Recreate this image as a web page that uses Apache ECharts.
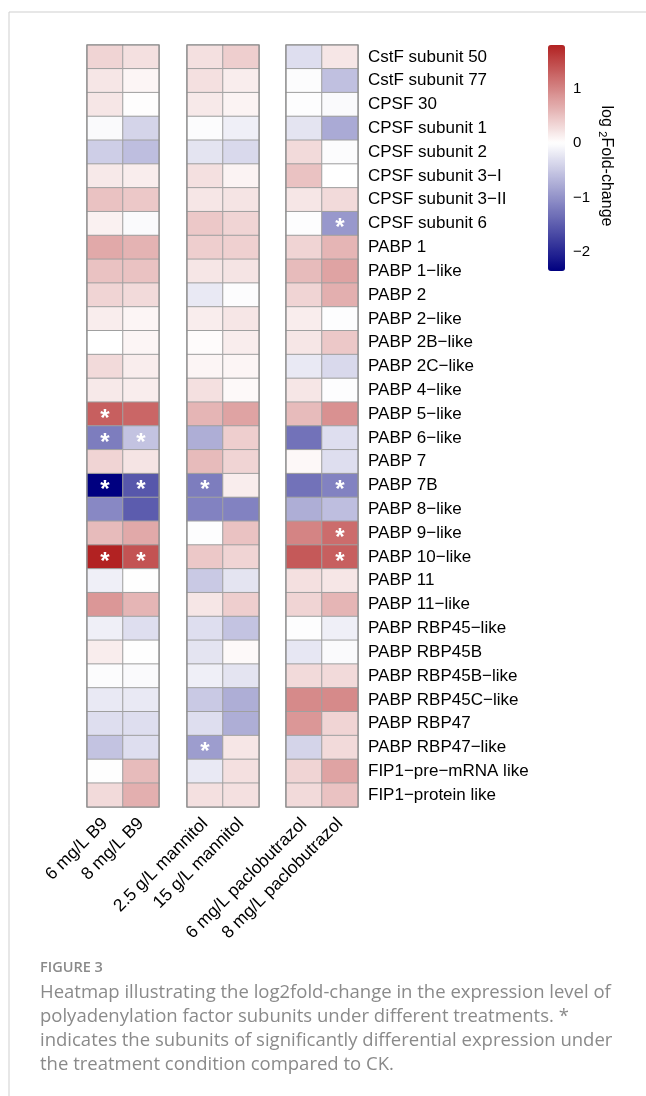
<!DOCTYPE html>
<html>
<head>
<meta charset="utf-8">
<script src="https://cdn.jsdelivr.net/npm/echarts@6/dist/echarts.min.js"></script>
<style>
html,body{margin:0;padding:0;background:#fff;}
#chart{width:646px;height:1096px;}
</style>
</head>
<body>
<div id="chart"></div>
<script>
// ---------- DATA ----------
const genes = [
  'CstF subunit 50','CstF subunit 77','CPSF 30','CPSF subunit 1','CPSF subunit 2',
  'CPSF subunit 3−I','CPSF subunit 3−II','CPSF subunit 6','PABP 1','PABP 1−like',
  'PABP 2','PABP 2−like','PABP 2B−like','PABP 2C−like','PABP 4−like','PABP 5−like',
  'PABP 6−like','PABP 7','PABP 7B','PABP 8−like','PABP 9−like','PABP 10−like',
  'PABP 11','PABP 11−like','PABP RBP45−like','PABP RBP45B','PABP RBP45B−like',
  'PABP RBP45C−like','PABP RBP47','PABP RBP47−like','FIP1−pre−mRNA like','FIP1−protein like'
];
const treatments = ['6 mg/L B9','8 mg/L B9','2.5 g/L mannitol','15 g/L mannitol','6 mg/L paclobutrazol','8 mg/L paclobutrazol'];

const b9_6   = [0.35,0.2,0.2,-0.05,-0.45,0.18,0.5,0.12,0.7,0.5,0.35,0.15,0.0,0.3,0.18,1.3,-1.2,0.35,-2.35,-1.1,0.55,1.8,-0.15,0.85,-0.15,0.15,-0.03,-0.2,-0.3,-0.55,-0.01,0.3];
const b9_8   = [0.25,0.08,0.02,-0.4,-0.6,0.15,0.45,-0.05,0.62,0.5,0.3,0.08,0.08,0.15,0.15,1.25,-0.55,0.22,-1.55,-1.5,0.7,1.4,-0.01,0.6,-0.3,-0.01,-0.05,-0.2,-0.3,-0.3,0.55,0.65];
const man_25 = [0.25,0.25,0.18,-0.03,-0.25,0.25,0.2,0.45,0.4,0.2,-0.2,0.15,0.03,0.08,0.25,0.6,-0.75,0.55,-1.2,-1.15,-0.02,0.45,-0.5,0.2,-0.3,-0.25,-0.15,-0.5,-0.3,-0.9,-0.2,0.25];
const man_15 = [0.4,0.15,0.1,-0.15,-0.35,0.1,0.22,0.35,0.38,0.22,-0.03,0.2,0.15,0.08,0.05,0.75,0.4,0.35,0.15,-1.15,0.5,0.35,-0.25,0.4,-0.55,0.05,-0.25,-0.75,-0.75,0.2,0.25,0.25];
const pac_6  = [-0.3,-0.03,-0.02,-0.25,0.3,0.5,0.2,-0.02,0.35,0.55,0.35,0.15,0.2,-0.2,0.2,0.55,-1.3,0.06,-1.3,-0.75,1.0,1.35,0.25,0.35,-0.02,-0.22,0.3,0.95,0.85,-0.4,0.35,0.3];
const pac_8  = [0.2,-0.58,-0.05,-0.78,-0.03,0.0,0.3,-0.95,0.6,0.75,0.65,-0.02,0.45,-0.35,-0.02,0.9,-0.3,-0.3,-1.15,-0.6,1.2,1.3,0.2,0.6,-0.15,-0.05,0.3,0.95,0.35,0.3,0.75,0.5];

const sig_b9_6   = ['PABP 5−like','PABP 6−like','PABP 7B','PABP 10−like'];
const sig_b9_8   = ['PABP 6−like','PABP 7B','PABP 10−like'];
const sig_man_25 = ['PABP 7B','PABP RBP47−like'];
const sig_man_15 = [];
const sig_pac_6  = [];
const sig_pac_8  = ['CPSF subunit 6','PABP 7B','PABP 9−like','PABP 10−like'];

const scaleMin = -2.35, scaleMax = 1.8;
const colorTicks = [-2, -1, 0, 1];

// ---------- BUILD ----------
const cols = [b9_6, b9_8, man_25, man_15, pac_6, pac_8];
const sigs = [sig_b9_6, sig_b9_8, sig_man_25, sig_man_15, sig_pac_6, sig_pac_8];

// colour ramp: navy -> white at 0 -> firebrick
const lowC = [0,0,128], midC = [255,255,255], highC = [178,34,34];
function colAt(v){
  let b, t;
  if (v < 0){ b = lowC; t = v/scaleMin; } else { b = highC; t = v/scaleMax; }
  const c = midC.map((x,i)=>Math.round(x + (b[i]-x)*t));
  return 'rgb(' + c.join(',') + ')';
}
const ramp = [];
const N = 84;
for (let i = 0; i < N; i++) ramp.push(colAt(scaleMin + (scaleMax-scaleMin)*i/(N-1)));

const font = '"Liberation Sans", Arial, Helvetica, sans-serif';
const groupLefts = [87, 187, 286];
const gridTop = 45, gridH = 762, cellW = 36;

const grids = [], xAxes = [], yAxes = [], series = [];
for (let g = 0; g < 3; g++){
  grids.push({left: groupLefts[g], top: gridTop, width: cellW*2, height: gridH, show: true, borderColor: '#8c8c8c', borderWidth: 1.2, backgroundColor: 'transparent', z: 3});
  xAxes.push({
    type: 'category', gridIndex: g, data: treatments.slice(g*2, g*2+2), position: 'bottom',
    axisLine: {show: false}, axisTick: {show: false},
    axisLabel: {rotate: 45, fontSize: 17.5, color: '#000', fontFamily: font, margin: 14, interval: 0}
  });
  yAxes.push({
    type: 'category', gridIndex: g, data: genes, inverse: true, position: 'right',
    axisLine: {show: false}, axisTick: {show: false},
    axisLabel: {show: g === 2, fontSize: 17, color: '#000', fontFamily: font, margin: 10, align: 'left', interval: 0}
  });
  const data = [];
  for (let c = 0; c < 2; c++){
    const ti = g*2 + c;
    for (let r = 0; r < genes.length; r++){
      data.push({value: [c, r, cols[ti][r]], star: sigs[ti].indexOf(genes[r]) >= 0});
    }
  }
  series.push({
    type: 'heatmap', xAxisIndex: g, yAxisIndex: g, data: data,
    itemStyle: {borderColor: '#a0a0a0', borderWidth: 1},
    label: {
      show: true, color: '#fff', fontSize: 24, fontWeight: 'bold', fontFamily: font,
      offset: [0, 5],
      formatter: p => p.data.star ? '*' : ''
    },
    emphasis: {disabled: true}
  });
}

// colour bar axis
grids.push({left: 548, top: 45, width: 17, height: 226, show: false});
xAxes.push({type: 'value', gridIndex: 3, show: false});
yAxes.push({
  type: 'value', gridIndex: 3, min: scaleMin, max: scaleMax, position: 'right',
  axisLine: {show: false}, axisTick: {show: false}, splitLine: {show: false},
  axisLabel: {customValues: colorTicks, fontSize: 15, color: '#000', fontFamily: font, margin: 8,
    formatter: v => String(v).replace('-', '−')},
  name: '{a|log }{s|2}{a|Fold-change}', nameLocation: 'middle', nameRotate: -90, nameGap: 32,
  nameTextStyle: {
    padding: [0, 0, 0, 16],
    rich: {
      a: {fontSize: 16, color: '#000', fontFamily: font},
      s: {fontSize: 11, color: '#000', fontFamily: font, padding: [8, 0, 0, 0]}
    }
  }
});

const option = {
  backgroundColor: '#fff',
  animation: false,
  grid: grids, xAxis: xAxes, yAxis: yAxes, series: series,
  visualMap: {
    type: 'continuous', min: scaleMin, max: scaleMax, seriesIndex: [0,1,2],
    left: 548, top: 45, itemWidth: 17, itemHeight: 226, padding: 0,
    calculable: false, realtime: false, text: ['', ''], showLabel: false,
    inRange: {color: ramp}, hoverLink: false
  },
  graphic: [
    {type: 'rect', shape: {x: 9, y: 12, width: 700, height: 1200}, style: {fill: 'none', stroke: '#cfcfcf', lineWidth: 1}, silent: true, z: -1},
    {type: 'text', left: 40, top: 960, style: {text: 'FIGURE 3', fontSize: 14.5, fontWeight: 600, fill: '#8a8a8a', fontFamily: '"Open Sans", Lato, sans-serif'}},
    {type: 'text', left: 40, top: 981, style: {
      text: 'Heatmap illustrating the log2fold-change in the expression level of\npolyadenylation factor subunits under different treatments. *\nindicates the subunits of significantly differential expression under\nthe treatment condition compared to CK.',
      fontSize: 18.5, lineHeight: 24, fill: '#8a8a8a', fontFamily: '"Open Sans", Lato, sans-serif'}}
  ]
};

const chart = echarts.init(document.getElementById('chart'), null, {renderer: 'canvas'});
chart.setOption(option);
</script>
</body>
</html>
